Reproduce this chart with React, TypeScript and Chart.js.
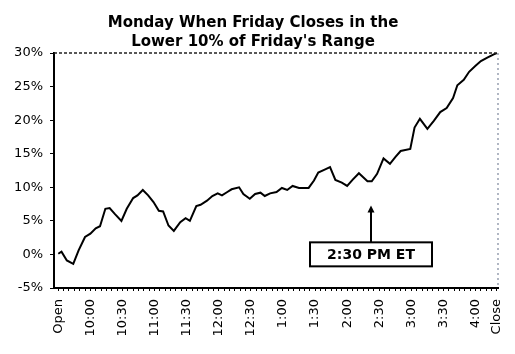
import React, { useEffect, useRef } from "react";
import { Chart, registerables } from "chart.js";

Chart.register(...registerables);

// Minutes after the open (9:30 ET) and the cumulative % move
const minutes = [
  0, 3, 8, 14, 19, 25, 30, 35, 39, 44, 48, 53, 59, 64, 70, 74, 79, 84, 89, 94,
  98, 103, 108, 114, 119, 123, 129, 133, 139, 144, 149, 153, 158, 162, 169, 173, 179, 184, 189, 193,
  198, 204, 209, 214, 219, 225, 234, 239, 243, 250, 254, 259, 265, 270, 275, 281, 285, 289, 293, 298,
  304, 310, 315, 320, 329, 333, 338, 345, 351, 357, 363, 369, 373, 379, 384, 390, 395, 401, 407, 410,
];
const pctValues = [
  0.1, 0.4, -0.9, -1.4, 0.6, 2.6, 3.1, 3.9, 4.2, 6.8, 6.9, 6.0, 5.0, 6.8, 8.4, 8.8, 9.6, 8.8, 7.8, 6.5,
  6.4, 4.3, 3.5, 4.8, 5.4, 5.0, 7.2, 7.4, 8.0, 8.7, 9.1, 8.8, 9.3, 9.7, 10.0, 9.0, 8.3, 9.0, 9.2, 8.7,
  9.1, 9.3, 9.9, 9.6, 10.2, 9.9, 9.9, 11.0, 12.2, 12.7, 13.0, 11.1, 10.7, 10.2, 11.1, 12.1, 11.5, 10.9, 10.9, 12.0,
  14.3, 13.5, 14.5, 15.4, 15.7, 18.9, 20.2, 18.7, 19.9, 21.2, 21.8, 23.3, 25.2, 26.0, 27.2, 28.1, 28.8, 29.3, 29.8, 30.0,
];

const tickMinutes = [0, 30, 60, 90, 120, 150, 180, 210, 240, 270, 300, 330, 360, 390, 410];
const tickLabels = [
  "Open", "10:00", "10:30", "11:00", "11:30", "12:00", "12:30", "1:00",
  "1:30", "2:00", "2:30", "3:00", "3:30", "4:00", "Close",
];
const minorTickStep = 5;
const lastMinute = 410;

const yMin = -5;
const yMax = 30;
const yStep = 5;

const titleLines = ["Monday When Friday Closes in the", "Lower 10% of Friday's Range"];

const annotationText = "2:30 PM ET";
const annotationMinute = 292;
const annotationTipValue = 7.3;
const annotationBoxTopValue = 1.8;

const FONT = "'DejaVu Sans', Verdana, sans-serif";

const framePlugin = {
  id: "frameAndNote",
  afterDraw(chart: any) {
    const { ctx, chartArea: a, scales } = chart;
    ctx.save();
    // dashed top border
    ctx.strokeStyle = "#222";
    ctx.lineWidth = 1.5;
    ctx.setLineDash([3, 2]);
    ctx.beginPath();
    ctx.moveTo(a.left, a.top);
    ctx.lineTo(a.right, a.top);
    ctx.stroke();
    // dotted right border
    ctx.strokeStyle = "#7d879c";
    ctx.lineWidth = 1.2;
    ctx.setLineDash([2, 3]);
    ctx.beginPath();
    ctx.moveTo(a.right, a.top);
    ctx.lineTo(a.right, a.bottom);
    ctx.stroke();
    ctx.setLineDash([]);

    // annotation arrow + box
    const x = Math.round(scales.x.getPixelForValue(annotationMinute));
    const tipY = scales.y.getPixelForValue(annotationTipValue);
    const boxTop = scales.y.getPixelForValue(annotationBoxTopValue);
    ctx.strokeStyle = "#000";
    ctx.fillStyle = "#000";
    ctx.lineWidth = 2;
    ctx.beginPath();
    ctx.moveTo(x, boxTop);
    ctx.lineTo(x, tipY + 5);
    ctx.stroke();
    ctx.beginPath();
    ctx.moveTo(x, tipY);
    ctx.lineTo(x - 3.5, tipY + 7);
    ctx.lineTo(x + 3.5, tipY + 7);
    ctx.closePath();
    ctx.fill();

    const boxW = 122;
    const boxH = 24;
    ctx.fillStyle = "#fff";
    ctx.fillRect(x - boxW / 2, boxTop, boxW, boxH);
    ctx.strokeRect(x - boxW / 2, boxTop, boxW, boxH);
    ctx.fillStyle = "#000";
    ctx.font = `bold 14px ${FONT}`;
    ctx.textAlign = "center";
    ctx.textBaseline = "middle";
    ctx.fillText(annotationText, x, boxTop + boxH / 2 + 1);
    ctx.restore();
  },
};

export default function App() {
  const canvasRef = useRef<HTMLCanvasElement | null>(null);

  useEffect(() => {
    if (!canvasRef.current) return;
    const data = minutes.map((m, i) => ({ x: m, y: pctValues[i] }));
    const chart = new Chart(canvasRef.current, {
      type: "line",
      data: {
        datasets: [
          {
            data,
            borderColor: "#000",
            borderWidth: 2,
            pointRadius: 0,
            tension: 0,
            fill: false,
          },
        ],
      },
      options: {
        responsive: false,
        animation: false,
        layout: { padding: { left: 8, right: 17, top: 0, bottom: 0 } },
        plugins: {
          legend: { display: false },
          tooltip: { enabled: false },
          title: {
            display: true,
            text: titleLines,
            color: "#000",
            font: { family: FONT, size: 15, weight: "bold", lineHeight: "18.5px" },
            padding: { top: 14, bottom: 2 },
          },
        },
        scales: {
          x: {
            type: "linear",
            min: -4,
            max: 411,
            afterBuildTicks(scale: any) {
              const t = [];
              for (let m = 0; m <= lastMinute; m += minorTickStep) t.push({ value: m });
              scale.ticks = t;
            },
            afterFit(scale: any) {
              scale.height = 66;
              scale.paddingLeft = 0;
              scale.paddingRight = 0;
            },
            grid: {
              display: true,
              drawOnChartArea: false,
              drawTicks: true,
              tickLength: 3,
              color: "#000",
            },
            border: { display: true, color: "#000", width: 2 },
            ticks: {
              autoSkip: false,
              minRotation: 90,
              maxRotation: 90,
              padding: 8,
              color: "#000",
              font: { family: FONT, size: 13 },
              callback(value: any) {
                const idx = tickMinutes.indexOf(Number(value));
                return idx >= 0 ? tickLabels[idx] : "";
              },
            },
          },
          y: {
            min: yMin,
            max: yMax,
            afterFit(scale: any) {
              scale.width = 46;
            },
            grid: {
              display: true,
              drawOnChartArea: false,
              drawTicks: true,
              tickLength: 4,
              color: "#000",
            },
            border: { display: true, color: "#000", width: 2 },
            ticks: {
              stepSize: yStep,
              padding: 7,
              color: "#000",
              font: { family: FONT, size: 13 },
              callback(value: any) {
                return `${value}%`;
              },
            },
          },
        },
      },
      plugins: [framePlugin],
    });
    return () => chart.destroy();
  }, []);

  return (
    <div style={{ position: "absolute", left: 0, top: 0, width: 515, height: 354, background: "#fff" }}>
      <canvas ref={canvasRef} width={515} height={354} style={{ display: "block" }} />
    </div>
  );
}
